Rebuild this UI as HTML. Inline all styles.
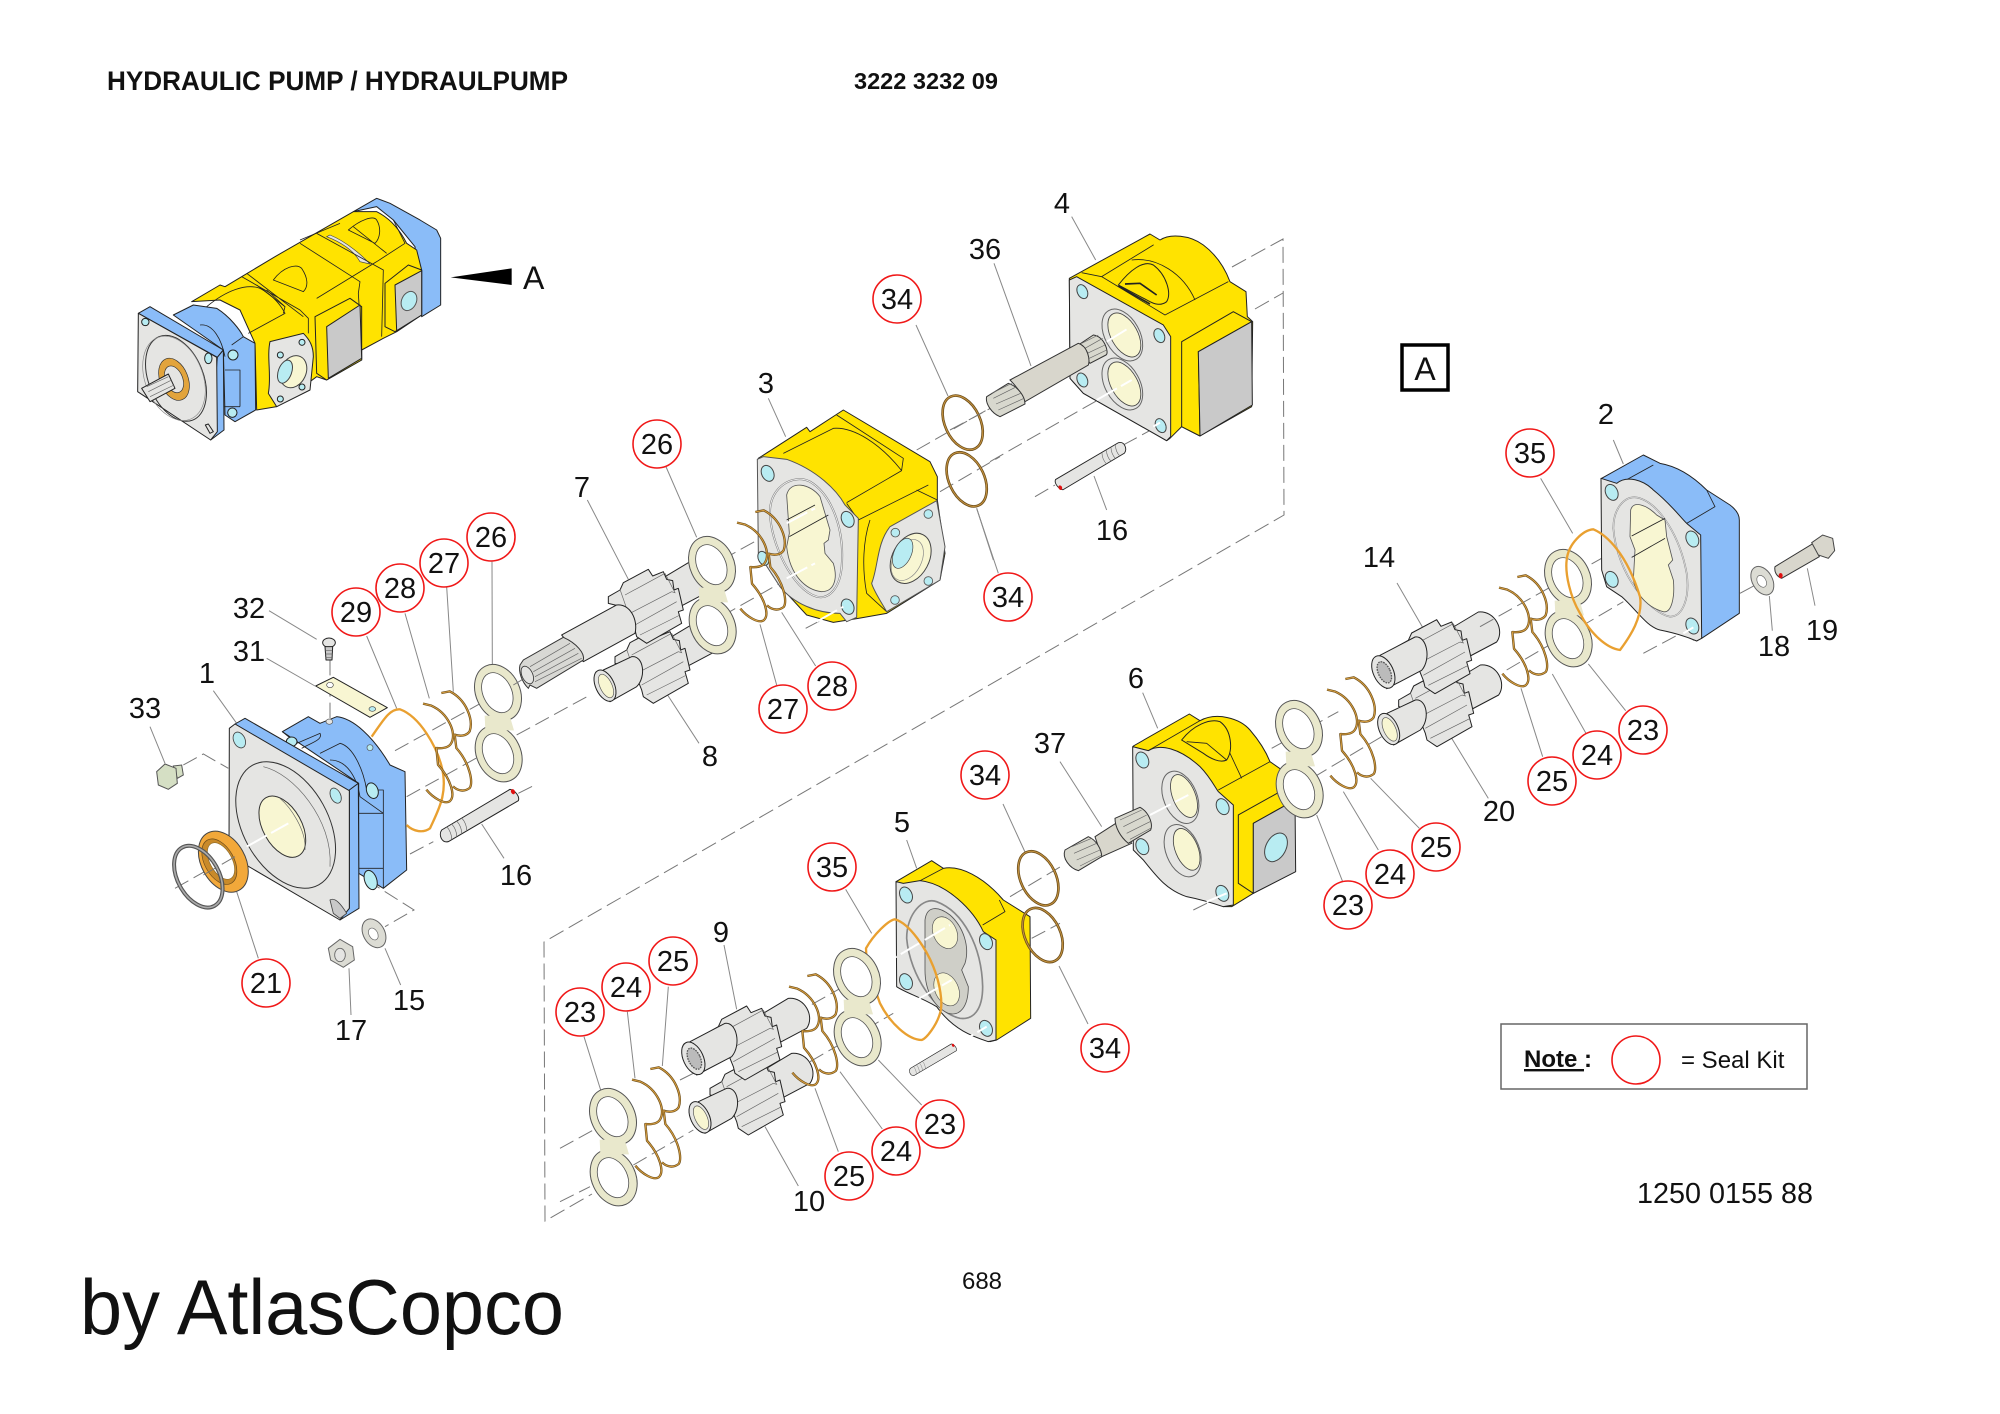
<!DOCTYPE html>
<html><head><meta charset="utf-8"><title>Hydraulic Pump</title>
<style>
html,body{margin:0;padding:0;background:#fff}
svg{display:block}
.k{stroke:#222;stroke-width:3;stroke-linejoin:round}
.n{fill:none;stroke:#222;stroke-width:2.5;stroke-linejoin:round}
.t{fill:none;stroke:#666;stroke-width:2}
.y{fill:#ffe300}.b{fill:#8abcf8}.g{fill:#e5e5e3}.d{fill:#c9c9c9}.c{fill:#f8f6d2}.h{fill:#b8ecf2}.s{fill:#dcdcd4}.w{fill:#fff}
.wa{fill:#e9e8cc;stroke:#555;stroke-width:3}
.l{stroke:#888;stroke-width:3;fill:none}
.dl{stroke:#777;stroke-width:3;stroke-dasharray:46 18;fill:none}
.wl{stroke:#fff;stroke-width:6;fill:none;stroke-dasharray:70 14}
.go{fill:none;stroke:#6e4f1c;stroke-width:7;stroke-linejoin:round}
.gi{fill:none;stroke:#d9a040;stroke-width:3;stroke-linejoin:round}
.oo{fill:none;stroke:#e9a030;stroke-width:7;stroke-linejoin:round}
.ri{fill:none;stroke:#6e4f1c;stroke-width:8}
.rj{fill:none;stroke:#c89540;stroke-width:3}
text{font-family:"Liberation Sans",sans-serif;fill:#111}
.lb text,.lb{font-size:29px;text-anchor:middle}
.rc{fill:#fff;stroke:#f01818;stroke-width:1.6}
</style></head><body>
<svg xmlns="http://www.w3.org/2000/svg" width="2000" height="1414" viewBox="0 0 2000 1414">
<defs>
<g id="w8">
<ellipse class="wa" cx="0" cy="-91" rx="66" ry="88" transform="rotate(-25 0 -91)"/>
<ellipse class="wa" cx="2" cy="92" rx="66" ry="88" transform="rotate(-25 2 92)"/>
<path fill="#e9e8cc" d="M-40-22L35-22L48 22L-38 22Z"/>
<ellipse class="w" stroke="#555" stroke-width="2.5" cx="-2" cy="-91" rx="43" ry="63" transform="rotate(-25 -2 -91)"/>
<ellipse class="w" stroke="#555" stroke-width="2.5" cx="0" cy="92" rx="43" ry="63" transform="rotate(-25 0 92)"/>
</g>
<g id="snap" transform="translate(-985 -502)">
<path class="go" d="M965 340L990 335C1040 360 1062 420 1050 455C1040 470 1020 470 1005 465L1010 505C1050 550 1062 610 1050 625C1030 640 1010 630 1000 620"/>
<path class="go" d="M910 372L935 378C985 400 1012 460 995 490C985 510 955 505 950 505L955 555C995 600 1008 650 990 665C975 675 940 655 920 630"/>
<path class="gi" d="M965 340L990 335C1040 360 1062 420 1050 455C1040 470 1020 470 1005 465L1010 505C1050 550 1062 610 1050 625C1030 640 1010 630 1000 620"/>
<path class="gi" d="M910 372L935 378C985 400 1012 460 995 490C985 510 955 505 950 505L955 555C995 600 1008 650 990 665C975 675 940 655 920 630"/>
</g>
<g id="gear">
<path class="g k" d="M55-90L130-135C180-140 210-80 185-45L100 0Z"/>
<path class="g k" d="M-115-30L-80-50L-70-72L5-112L18-92L50-105L60-82L78-78L82-50L95-55L110 10L95 15L105 50L0 110L-30 90L-35 70L-55 20L-70 15L-75 0L-115-10Z"/>
<path class="t" d="M-65-35L55-100M-50 20L75-45M-35 55L90-15M-20 85L100 25M-80-52L-55 20M55-100L85-42L75-45"/>
</g>
<g id="cylb">
<path class="g k" d="M-150 10L-65-30C-30-35-20 30-50 60L-130 105Z"/>
<ellipse class="g k" cx="-145" cy="57" rx="28" ry="50" transform="rotate(-25 -145 57)"/>
<ellipse class="c" stroke="#555" stroke-width="2" cx="-142" cy="58" rx="18" ry="38" transform="rotate(-25 -142 58)"/>
</g>
<g id="cyls">
<path class="g k" d="M-165-5L-60-60C-25-65-10 5-40 40L-145 95Z"/>
<ellipse class="g k" cx="-155" cy="45" rx="30" ry="52" transform="rotate(-25 -155 45)"/>
<ellipse fill="#bbb" stroke="#555" stroke-width="4" stroke-dasharray="5 3" cx="-152" cy="46" rx="18" ry="34" transform="rotate(-25 -152 46)"/>
</g>
<g id="pin">
<path class="g k" d="M-115 45L90-77C105-75 120-55 115-43L-95 80C-115 85-125 60-115 45Z"/>
<path class="t" d="M-100 35C-90 45-85 60-85 72M-85 27C-75 37-70 52-70 63M-70 18C-60 28-55 43-55 54M-55 9C-45 19-40 34-40 45"/>
<ellipse fill="#e01010" cx="99" cy="-70" rx="6" ry="8" transform="rotate(-25 99 -70)"/>
</g>
</defs>
<rect width="2000" height="1414" fill="#fff"/>

<!-- titles -->
<text x="107" y="90" font-size="27" font-weight="700" textLength="461" lengthAdjust="spacingAndGlyphs">HYDRAULIC PUMP / HYDRAULPUMP</text>
<text x="854" y="89" font-size="23" font-weight="700" textLength="144" lengthAdjust="spacingAndGlyphs">3222 3232 09</text>
<text x="80" y="1334" font-size="78" textLength="484" lengthAdjust="spacingAndGlyphs">by AtlasCopco</text>
<text x="982" y="1289" font-size="24" text-anchor="middle">688</text>
<text x="1637" y="1203" font-size="29" textLength="176" lengthAdjust="spacingAndGlyphs">1250 0155 88</text>

<!-- big dashed frame -->
<g fill="none" stroke="#777" stroke-width="1" stroke-dasharray="16 6">
<path d="M1232 267L1283 239L1284 515L544 942L545 1221L592 1194"/>
<path d="M1255 309L1283 293"/>
</g>
<path fill="none" stroke="#888" stroke-width="1" d="M916 325L948 396M1003 804L1025 852M1059 966L1088 1024M1397 583L1423 628"/>

<!-- Assembled pump -->
<g transform="translate(100 170) scale(.33333)">
<path class="b k" d="M760 125L830 85L870 100L960 150L1010 180L1022 205L1022 405L965 440L945 230L880 150L830 110Z"/>
<path class="y k" d="M275 395L360 345L375 350L425 320L525 260L760 125L830 125C880 150 905 190 920 220L950 240L965 300L965 435L890 485L850 505L785 540L785 570L680 630L650 620L530 710L470 720L465 520L420 420L360 390Z"/>
<path class="n" d="M320 410C380 360 440 340 480 355C520 375 545 410 555 430L445 490M500 360L555 410"/>
<path class="b k" d="M220 435L280 405L350 415C390 440 420 480 430 500L465 520L467 720L405 755L375 735L370 540Z"/>
<path class="n" d="M375 600L420 600L420 710M370 710L420 710M300 465C340 460 365 510 375 560M430 500L395 525"/>
<circle class="h k" cx="399" cy="555" r="15"/><circle class="h k" cx="397" cy="728" r="14"/>
<path class="g" d="M690 195C740 215 790 260 810 282L780 275C760 240 720 215 680 200Z" stroke="#444" stroke-width="2"/>
<path class="n" d="M425 320L600 420L625 445L625 490M440 310L610 440M600 220L780 335L775 370L785 530M600 210L720 160M650 190L850 300L845 500M880 150L915 220L830 275L650 385M470 345L555 410L550 430"/>
<path class="n" d="M520 330C550 290 590 280 605 295C625 325 625 350 610 365L520 330ZM745 180C780 150 820 135 830 150C845 175 840 205 825 220L745 180ZM760 170L860 250"/>
<path class="y k" d="M645 440L750 385L785 410L785 570L680 630L650 610Z"/>
<path class="d k" d="M680 470L780 405L785 565L685 625Z"/>
<path class="y k" d="M855 340L925 285L965 300L965 435L885 485L855 470Z"/>
<path class="d k" d="M885 345L965 302L965 435L890 482Z"/>
<ellipse class="h" stroke="#555" stroke-width="3" cx="927" cy="393" rx="22" ry="30" transform="rotate(25 927 393)"/>
<path class="g k" d="M510 515L610 490C630 510 640 530 640 560L630 660L530 710L505 670C515 620 500 560 510 515Z"/>
<ellipse class="c" stroke="#444" stroke-width="3" cx="580" cy="605" rx="38" ry="50" transform="rotate(25 580 605)"/>
<ellipse class="h" stroke="#444" stroke-width="3" cx="555" cy="605" rx="20" ry="36" transform="rotate(20 555 605)"/>
<circle class="h k" cx="541" cy="555" r="9"/><circle class="h k" cx="606" cy="517" r="9"/><circle class="h k" cx="606" cy="651" r="9"/><circle class="h k" cx="541" cy="687" r="9"/>
<path class="b k" d="M115 430L150 410L370 540L352 562Z"/>
<path class="b k" d="M352 562L370 540L372 780L332 810Z"/>
<path class="g k" d="M115 430L350 562L352 785L332 810L113 665Z"/>
<ellipse fill="none" stroke="#333" stroke-width="3" cx="228" cy="625" rx="82" ry="135" transform="rotate(-22 228 625)"/>
<ellipse fill="none" stroke="#888" stroke-width="2" cx="222" cy="625" rx="86" ry="132" transform="rotate(-22 222 625)"/>
<ellipse fill="#e2a43c" stroke="#333" stroke-width="2" cx="222" cy="628" rx="42" ry="66" transform="rotate(-22 222 628)"/>
<ellipse class="g" stroke="#333" stroke-width="2" cx="222" cy="628" rx="26" ry="42" transform="rotate(-22 222 628)"/>
<path class="g k" d="M125 655L205 612L225 655L150 695Z"/>
<path class="t" d="M140 650L205 620M145 665L215 630M150 680L222 645"/>
<circle class="h k" cx="136" cy="456" r="11"/><ellipse class="h k" cx="325" cy="565" rx="11" ry="16"/>
<path class="g k" d="M316 765L330 790L340 785L325 762Z"/>
<path fill="#000" d="M1052 322L1235 295L1235 345Z"/>
</g>
<text x="523" y="289" font-size="32">A</text>

<!-- Front cover 1 group -->
<g transform="translate(120 580) scale(.33333)">
<path class="dl" d="M190 555L250 522L325 565"/>
<path class="dl" d="M630 240L630 430M825 512L1140 338M860 650L1140 495M870 822L940 785M1195 640L1245 615M740 900L882 990L795 1040"/>
<path class="dl" d="M165 925L280 860"/>
<path class="l" d="M447 92L590 178M440 235L585 318M280 332L350 430M90 440L135 550M740 168L830 385M855 100L928 355M980 20L1000 335M1116 -55L1117 255M1152 835L1085 732M415 1135L350 935M693 1305L687 1165M842 1215L795 1105"/>
<path class="b k" d="M487 455L565 410L600 430L650 410C700 415 760 470 810 555L855 575L860 870L790 925L716 880L716 610Z"/>
<path class="n" d="M487 455L530 490L600 460C610 480 570 490 545 505M600 520L660 490C700 500 730 570 740 630L790 630L790 925M716 700L790 700M716 865L790 865M630 540C680 540 710 590 720 650L790 700"/>
<ellipse class="h k" cx="515" cy="485" rx="16" ry="14"/>
<ellipse class="h k" cx="757" cy="632" rx="17" ry="24" transform="rotate(-20 757 632)"/>
<ellipse class="h k" cx="752" cy="900" rx="18" ry="30" transform="rotate(-20 752 900)"/>
<circle class="h" stroke="#555" stroke-width="2" cx="750" cy="503" r="9"/>
<ellipse class="g" stroke="#555" stroke-width="2" cx="628" cy="425" rx="10" ry="8"/>
<path class="b k" d="M345 432L375 415L715 610L688 640Z"/>
<path class="b k" d="M688 630L715 610L717 985L660 1020L688 985Z"/>
<path class="g k" d="M328 445L345 432L688 632L688 985L660 1020L327 825Z"/>
<ellipse fill="none" stroke="#333" stroke-width="3" cx="497" cy="735" rx="128" ry="205" transform="rotate(-29 497 735)"/>
<path class="t" d="M430 560C520 580 640 720 630 860"/>
<ellipse class="c" stroke="#333" stroke-width="3" cx="487" cy="740" rx="58" ry="100" transform="rotate(-29 487 740)"/>
<path class="t" d="M480 655C510 680 560 750 555 810"/>
<ellipse class="h" stroke="#444" stroke-width="2.5" cx="358" cy="480" rx="17" ry="25" transform="rotate(-25 358 480)"/>
<ellipse class="h" stroke="#444" stroke-width="2.5" cx="647" cy="647" rx="15" ry="24" transform="rotate(-25 647 647)"/>
<path class="d" stroke="#444" stroke-width="2.5" d="M630 960C645 950 665 975 680 1000L660 1015L640 1000Z"/>
<path class="wl" d="M380 800L505 730"/>
<ellipse fill="#f2a83a" stroke="#444" stroke-width="3" cx="310" cy="845" rx="66" ry="98" transform="rotate(-29 310 845)"/>
<ellipse fill="#c98a2a" stroke="#6a4a1a" stroke-width="2" cx="298" cy="845" rx="44" ry="74" transform="rotate(-29 298 845)"/>
<ellipse class="w" stroke="#8a6a2a" stroke-width="2" cx="303" cy="843" rx="33" ry="60" transform="rotate(-29 303 843)"/>
<path class="dl" d="M250 885L345 830"/>
<ellipse fill="none" stroke="#555" stroke-width="12" cx="235" cy="890" rx="62" ry="100" transform="rotate(-29 235 890)"/>
<ellipse fill="none" stroke="#aaa" stroke-width="5" cx="235" cy="890" rx="62" ry="100" transform="rotate(-29 235 890)"/>
<path class="oo" d="M755 470C790 420 810 385 840 388C900 410 950 500 965 560C985 640 955 690 930 745C910 760 880 755 860 735"/>
<!-- bolt 32 -->
<ellipse class="g k" cx="627" cy="188" rx="19" ry="14"/>
<path class="d k" d="M615 200L638 200L636 240L618 240Z"/>
<path class="t" d="M616 212L637 212M616 222L637 222M617 232L636 232"/>
<!-- plate 31 -->
<path class="c k" d="M587 318L640 292L802 383L750 412Z"/>
<ellipse class="w" stroke="#444" stroke-width="2" cx="630" cy="315" rx="10" ry="8"/>
<ellipse class="h" stroke="#444" stroke-width="2" cx="757" cy="387" rx="10" ry="7"/>
<!-- plug 33 -->
<path fill="#d5dfc4" stroke="#555" stroke-width="3" d="M160 558L185 555L190 585L172 595Z"/>
<path fill="#d5dfc4" stroke="#555" stroke-width="3" d="M110 575L135 552L168 565L172 610L145 628L115 615Z"/>
<!-- nut, washer -->
<path class="s" stroke="#666" stroke-width="3" d="M625 1105L660 1078L698 1100L703 1140L670 1162L632 1140Z"/>
<ellipse class="g" stroke="#666" stroke-width="2.5" cx="660" cy="1125" rx="16" ry="20"/>
<ellipse class="s" stroke="#666" stroke-width="3" cx="762" cy="1060" rx="32" ry="46" transform="rotate(-29 762 1060)"/>
<ellipse class="w" stroke="#666" stroke-width="2" cx="760" cy="1062" rx="13" ry="19" transform="rotate(-29 760 1062)"/>
<use href="#pin" transform="translate(1080 705)"/>
</g>

<!-- reusable washers & snap rings -->
<g transform="translate(498 723) scale(.33333)"><use href="#w8"/></g>

<!-- Gears 7 & 8 & pump 3 -->
<g transform="translate(500 380) scale(.33333)">
<path class="dl" d="M50 1065L270 945M40 915L90 885M610 740L945 550M610 570L945 385M917 745L1040 680M1250 210L1495 70M1320 335L1500 230"/>
<path class="l" d="M497 258L590 472M262 360L385 598M805 55L857 170M597 1090L493 930M830 915L780 733M947 858L845 697M1430 385L1495 580"/>
<!-- pump 3 -->
<path class="y k" d="M775 235L920 142L930 155L1030 90L1290 245L1312 290L1312 360L1335 520L1320 600L1160 700L1075 715L1000 727L920 705L860 640L780 500Z"/>
<path class="n" d="M850 220L1000 145C1060 140 1140 190 1205 272L1040 368M1010 105L1210 235L1205 270M1040 370L1075 420M1075 420L1285 315M1110 420C1090 480 1085 560 1100 640L1160 695M1250 330L1312 360"/>
<path class="g" stroke="#555" stroke-width="3" d="M1170 440L1310 362L1335 500L1320 600L1160 695C1140 660 1120 630 1115 610C1135 560 1130 490 1170 440Z"/>
<ellipse class="c" stroke="#444" stroke-width="3" cx="1232" cy="535" rx="55" ry="80" transform="rotate(28 1232 535)"/>
<ellipse fill="none" stroke="#888" stroke-width="2" cx="1222" cy="540" rx="42" ry="66" transform="rotate(28 1222 540)"/>
<ellipse class="h" stroke="#444" stroke-width="2" cx="1208" cy="520" rx="26" ry="48" transform="rotate(24 1208 520)"/>
<circle class="h" stroke="#555" stroke-width="2.5" cx="1186" cy="458" r="13"/><circle class="h" stroke="#555" stroke-width="2.5" cx="1285" cy="402" r="13"/><circle class="h" stroke="#555" stroke-width="2.5" cx="1285" cy="603" r="13"/><circle class="h" stroke="#555" stroke-width="2.5" cx="1185" cy="660" r="13"/>
<path class="g" stroke="#555" stroke-width="3" d="M772 238L790 230L860 238C950 270 1010 330 1035 375L1075 415L1070 712L1040 725L1020 700C950 700 880 670 840 620L775 520Z"/>
<path fill="none" stroke="#777" stroke-width="6" d="M810 395C810 320 880 280 930 305C990 340 1035 440 1025 560C1020 620 990 660 950 650C880 630 810 490 810 395Z"/>
<path fill="none" stroke="#eee" stroke-width="3" d="M810 395C810 320 880 280 930 305C990 340 1035 440 1025 560C1020 620 990 660 950 650C880 630 810 490 810 395Z"/>
<path class="c" stroke="#555" stroke-width="2.5" d="M860 345C870 300 930 310 960 350L975 400L990 450L985 480L972 490L975 520L1000 550C1015 600 1000 635 965 635C920 630 870 590 860 500L868 460Z"/>
<path class="n" d="M860 420L945 375M868 470L985 405"/>
<ellipse class="h" stroke="#444" stroke-width="3" cx="803" cy="280" rx="18" ry="25" transform="rotate(-25 803 280)"/>
<ellipse class="h" stroke="#444" stroke-width="3" cx="1043" cy="418" rx="18" ry="25" transform="rotate(-25 1043 418)"/>
<ellipse class="h" stroke="#444" stroke-width="3" cx="1043" cy="680" rx="18" ry="24" transform="rotate(-25 1043 680)"/>
<ellipse class="h" stroke="#444" stroke-width="3" cx="790" cy="535" rx="15" ry="22" transform="rotate(-25 790 535)"/>
<path class="wl" d="M860 430L945 385M860 595L945 550M950 725L1030 680"/>
<ellipse class="ri" cx="1388" cy="128" rx="53" ry="86" transform="rotate(-25 1388 128)"/>
<ellipse class="rj" cx="1388" cy="128" rx="53" ry="86" transform="rotate(-25 1388 128)"/>
<ellipse class="ri" cx="1400" cy="298" rx="53" ry="86" transform="rotate(-25 1400 298)"/>
<ellipse class="rj" cx="1400" cy="298" rx="53" ry="86" transform="rotate(-25 1400 298)"/>
<!-- lower gear -->
<use href="#gear" transform="translate(460 860)"/>
<use href="#cylb" transform="translate(460 860)"/>
<!-- upper gear with long shaft -->
<use href="#gear" transform="translate(440 680)"/>
<path class="g k" d="M185 765L350 675C390 670 415 720 405 760L250 845Z"/>
<path fill="#d8d8d4" stroke="#333" stroke-width="3" d="M60 855L70 840L190 772C230 790 255 820 250 840L110 925L90 915L85 925C65 905 55 875 60 855Z"/>
<path class="t" d="M90 860L210 790M100 875L225 805M105 890L235 820M105 905L245 835"/>
<ellipse class="g" stroke="#333" stroke-width="2.5" cx="82" cy="885" rx="16" ry="28" transform="rotate(-25 82 885)"/>
</g>
<g transform="translate(712 595) scale(.33333)"><use href="#w8"/></g>
<g transform="translate(762 566) scale(.33333)"><use href="#snap"/></g>
<g transform="translate(448 747) scale(.33333)"><use href="#snap"/></g>

<!-- Part 4, shaft 36, pin 16 -->
<g transform="translate(950 180) scale(.33333)">
<path class="dl" d="M0 750L140 675M120 845L540 605M255 950L315 915M520 795L630 735"/>
<path class="l" d="M365 110L437 240M132 250L243 558M470 990L432 888M80 985L130 1140"/>
<path class="y k" d="M358 295L600 162L630 180C660 160 720 165 760 195C800 225 825 265 840 305L888 335L892 410L908 425L905 680L750 768L695 740L660 775L650 782L400 640L360 595Z"/>
<path class="n" d="M395 278L455 290L610 195L455 290L645 405L835 305M545 240C620 230 700 280 735 360"/>
<path fill="#ffe300" stroke="#222" stroke-width="3" d="M505 315C540 270 580 240 610 255C650 285 665 340 650 365C630 380 610 370 600 365Z"/>
<path fill="none" stroke="#222" stroke-width="5" d="M505 318L600 372M525 312L570 310L620 345"/>
<path class="y k" d="M695 485L850 395L905 425L745 515L750 768L695 740Z"/>
<path class="d k" d="M745 515L905 425L907 675L750 768Z"/>
<path class="g k" d="M358 300L380 290L640 435L662 470L662 770L650 782L400 640L360 595Z"/>
<ellipse class="g" stroke="#666" stroke-width="3" cx="517" cy="465" rx="52" ry="84" transform="rotate(-29 517 465)"/>
<ellipse class="c" stroke="#444" stroke-width="2.5" cx="523" cy="465" rx="40" ry="72" transform="rotate(-29 523 465)"/>
<ellipse class="g" stroke="#666" stroke-width="3" cx="517" cy="612" rx="52" ry="84" transform="rotate(-29 517 612)"/>
<ellipse class="c" stroke="#444" stroke-width="2.5" cx="523" cy="612" rx="40" ry="72" transform="rotate(-29 523 612)"/>
<ellipse class="h" stroke="#444" stroke-width="3" cx="397" cy="335" rx="15" ry="22" transform="rotate(-25 397 335)"/>
<ellipse class="h" stroke="#444" stroke-width="3" cx="628" cy="467" rx="15" ry="22" transform="rotate(-25 628 467)"/>
<ellipse class="h" stroke="#444" stroke-width="3" cx="397" cy="600" rx="15" ry="22" transform="rotate(-25 397 600)"/>
<ellipse class="h" stroke="#444" stroke-width="3" cx="632" cy="737" rx="15" ry="22" transform="rotate(-25 632 737)"/>
<path class="wl" d="M470 485L535 445M440 660L545 600M610 740L630 728"/>
<path fill="#d8d8ce" stroke="#333" stroke-width="3" d="M385 495L430 465C465 470 478 520 468 525L420 550Z"/>
<path class="t" d="M395 490L445 465M405 505L458 475M412 520L465 495M418 535L470 510"/>
<path fill="#d8d6cc" stroke="#333" stroke-width="3" d="M180 600L385 490C415 500 420 540 415 555L225 665C215 640 195 615 180 600Z"/>
<path fill="#d8d8ce" stroke="#333" stroke-width="3" d="M110 650L175 610C205 620 225 650 225 672L150 710C125 700 105 670 110 650Z"/>
<path class="t" d="M125 640L185 610M130 655L200 620M138 672L212 640M145 690L222 655"/>
<use href="#pin" transform="translate(420 860) rotate(180) scale(.9)"/>
</g>

<!-- Part 5, gears 9,10 -->
<g transform="translate(560 840) scale(.33333)">
<path class="dl" d="M0 925L200 815M0 1085L90 1040M220 975L400 870M360 720L400 700M700 525L850 440M750 665L1000 520M1180 620L1280 560M1350 170L1510 75M1415 295L1500 250"/>
<path class="l" d="M857 148L935 280M492 315L530 508M325 440L307 678M202 515L225 715M72 590L122 750M1085 795L955 660M967 867L840 695M835 935L765 745M715 1038L615 860M1040 0L1070 85"/>
<path class="y k" d="M1008 125L1115 62L1150 85C1200 75 1270 110 1330 180L1410 230L1412 535L1310 600L1290 605Z"/>
<path class="n" d="M1268 255L1335 215L1318 180M1075 125L1150 85"/>
<path class="g k" d="M1008 125L1030 130L1080 122C1160 130 1240 210 1270 275L1308 300L1308 600L1285 605C1240 590 1180 570 1130 500C1080 470 1040 460 1010 440Z"/>
<path fill="none" stroke="#888" stroke-width="5" d="M1040 295C1040 220 1090 170 1130 185C1210 215 1265 320 1268 440C1268 510 1240 540 1200 535C1130 520 1050 410 1040 295Z"/>
<path fill="#cfcfc8" stroke="#555" stroke-width="2.5" d="M1095 240C1100 200 1130 195 1170 225C1210 260 1230 320 1215 370L1205 390L1225 440C1225 500 1200 530 1165 520C1120 500 1095 450 1095 390Z"/>
<ellipse class="c" stroke="#555" stroke-width="2" cx="1155" cy="278" rx="35" ry="50" transform="rotate(-25 1155 278)"/>
<ellipse class="c" stroke="#555" stroke-width="2" cx="1160" cy="448" rx="35" ry="52" transform="rotate(-25 1160 448)"/>
<ellipse class="h" stroke="#444" stroke-width="3" cx="1038" cy="165" rx="18" ry="25" transform="rotate(-25 1038 165)"/>
<ellipse class="h" stroke="#444" stroke-width="3" cx="1278" cy="305" rx="18" ry="25" transform="rotate(-25 1278 305)"/>
<ellipse class="h" stroke="#444" stroke-width="3" cx="1038" cy="425" rx="18" ry="25" transform="rotate(-25 1038 425)"/>
<ellipse class="h" stroke="#444" stroke-width="3" cx="1278" cy="565" rx="18" ry="25" transform="rotate(-25 1278 565)"/>
<path class="wl" d="M950 385L1170 255M1000 520L1175 420M1180 620L1280 560"/>
<path class="oo" d="M918 325C940 285 985 240 1005 238C1050 250 1100 330 1120 380C1140 430 1150 490 1140 520C1130 555 1100 595 1085 600C1045 600 990 550 960 490C935 420 918 370 918 325Z"/>
<ellipse class="ri" cx="1435" cy="115" rx="53" ry="86" transform="rotate(-25 1435 115)"/>
<ellipse class="rj" cx="1435" cy="115" rx="53" ry="86" transform="rotate(-25 1435 115)"/>
<ellipse class="ri" cx="1448" cy="285" rx="53" ry="86" transform="rotate(-25 1448 285)"/>
<ellipse class="rj" cx="1448" cy="285" rx="53" ry="86" transform="rotate(-25 1448 285)"/>
<use href="#pin" transform="translate(1120 658) scale(.6)"/>
<use href="#gear" transform="translate(565 775)"/>
<use href="#cylb" transform="translate(565 775)"/>
<use href="#gear" transform="translate(555 610)"/>
<use href="#cyls" transform="translate(555 610)"/>
</g>
<g transform="translate(613 1147) scale(.33333)"><use href="#w8"/></g>
<g transform="translate(857 1007) scale(.33333)"><use href="#w8"/></g>
<g transform="translate(657 1123) scale(.33333)"><use href="#snap"/></g>
<g transform="translate(814 1030) scale(.33333)"><use href="#snap"/></g>

<!-- Part 6, shaft 37 -->
<g transform="translate(1060 680) scale(.33333)">
<path class="dl" d="M635 205L835 95M705 325L990 155M400 690L500 640"/>
<path class="l" d="M248 38L293 145M0 245L125 440M848 605L770 405M955 510L850 335M1078 445L932 295M1285 355L1172 170"/>
<path class="y k" d="M220 198L388 102L420 122C470 95 540 115 570 150C600 185 620 220 630 245L680 280L680 345L705 360L705 575L580 640L515 680L490 680Z"/>
<path class="n" d="M475 330L630 245M510 220L545 295M265 212L420 122"/>
<path fill="#ffe300" stroke="#222" stroke-width="3" d="M365 180C400 135 450 115 480 125C515 150 520 210 500 240C480 250 450 235 430 220Z"/>
<path class="n" d="M380 185L440 190L500 240"/>
<path class="y k" d="M535 405L660 335L705 360L580 430L580 640L535 610Z"/>
<path class="d k" d="M580 430L705 360L707 575L580 640Z"/>
<ellipse class="h" stroke="#444" stroke-width="3" cx="648" cy="502" rx="30" ry="46" transform="rotate(28 648 502)"/>
<path class="g k" d="M218 200L265 212C300 190 360 205 420 260C450 290 470 330 475 335L520 375L520 675L490 680C460 670 430 660 380 650C320 630 290 590 250 540L220 510Z"/>
<ellipse class="g" stroke="#666" stroke-width="3" cx="361" cy="352" rx="50" ry="82" transform="rotate(-22 361 352)"/>
<ellipse class="c" stroke="#444" stroke-width="2.5" cx="372" cy="348" rx="34" ry="68" transform="rotate(-22 372 348)"/>
<ellipse class="g" stroke="#666" stroke-width="3" cx="368" cy="512" rx="50" ry="82" transform="rotate(-22 368 512)"/>
<ellipse class="c" stroke="#444" stroke-width="2.5" cx="380" cy="508" rx="34" ry="66" transform="rotate(-22 380 508)"/>
<ellipse class="h" stroke="#444" stroke-width="3" cx="247" cy="240" rx="18" ry="25" transform="rotate(-25 247 240)"/>
<ellipse class="h" stroke="#444" stroke-width="3" cx="488" cy="380" rx="18" ry="25" transform="rotate(-25 488 380)"/>
<ellipse class="h" stroke="#444" stroke-width="3" cx="247" cy="500" rx="18" ry="25" transform="rotate(-25 247 500)"/>
<ellipse class="h" stroke="#444" stroke-width="3" cx="487" cy="640" rx="18" ry="25" transform="rotate(-25 487 640)"/>
<path class="wl" d="M270 405L385 345M440 665L500 640"/>
<path fill="#d8d6cc" stroke="#333" stroke-width="3" d="M105 470L175 425L215 490L125 530Z"/>
<path fill="#d8d8ce" stroke="#333" stroke-width="3" d="M165 415L240 382C265 395 280 430 272 450L205 490C180 470 165 440 165 415Z"/>
<path class="t" d="M180 420L245 390M190 440L260 405M200 460L270 425M210 478L272 445"/>
<path fill="#d8d8ce" stroke="#333" stroke-width="3" d="M15 510L85 470C110 480 125 510 125 530L55 572C30 565 5 535 15 510Z"/>
<path class="t" d="M35 500L95 475M42 520L110 490M50 540L120 510M60 558L125 525"/>
</g>

<!-- gears 14, 20 and cover 2 -->
<g transform="translate(1437 710) scale(.33333)"><use href="#gear"/><use href="#cylb"/></g>
<g transform="translate(1435 657) scale(.33333)"><use href="#gear"/><use href="#cyls"/></g>
<g transform="translate(1299 759) scale(.33333)"><use href="#w8"/></g>
<g transform="translate(1352 733) scale(.33333)"><use href="#snap"/></g>

<g transform="translate(1480 440) scale(.33333)">
<path class="dl" d="M0 560L365 355M80 690L430 485M490 640L640 560M780 460L845 425"/>
<path class="l" d="M182 115L278 280M400 0L430 72M437 812L325 672M318 880L217 702M188 950L123 745M877 572L868 468M1005 497L982 385"/>
<path class="b k" d="M365 115L490 45L540 70C600 80 650 120 680 150L750 195C770 210 778 225 778 240L778 520L665 595L640 600Z"/>
<path class="n" d="M620 250L705 200L680 150M420 130L520 75"/>
<path class="g k" d="M363 115L410 130C440 105 490 120 520 150C570 190 600 230 620 250L662 285L665 595L650 603C620 590 590 580 540 570C500 560 470 510 425 470L380 440L365 390Z"/>
<path fill="none" stroke="#888" stroke-width="5" d="M400 265C400 200 440 160 480 175C540 195 600 290 620 400C630 470 610 530 570 530C510 520 410 400 400 265Z"/>
<path fill="none" stroke="#eee" stroke-width="2" d="M400 265C400 200 440 160 480 175C540 195 600 290 620 400C630 470 610 530 570 530C510 520 410 400 400 265Z"/>
<path class="c" stroke="#555" stroke-width="2.5" d="M452 210C460 180 500 195 530 225L555 240L560 290L578 360L565 375L580 420C585 470 575 520 550 515C510 505 470 470 460 420L465 330L450 290Z"/>
<path class="n" d="M455 288L555 235M455 352L555 295"/>
<ellipse class="h" stroke="#444" stroke-width="3" cx="395" cy="157" rx="18" ry="25" transform="rotate(-25 395 157)"/>
<ellipse class="h" stroke="#444" stroke-width="3" cx="637" cy="297" rx="18" ry="25" transform="rotate(-25 637 297)"/>
<ellipse class="h" stroke="#444" stroke-width="3" cx="395" cy="418" rx="18" ry="25" transform="rotate(-25 395 418)"/>
<ellipse class="h" stroke="#444" stroke-width="3" cx="637" cy="558" rx="18" ry="25" transform="rotate(-25 637 558)"/>
<path class="wl" d="M610 580L640 562"/>
</g>
<g transform="translate(1568 608) scale(.33333)"><use href="#w8"/></g>
<g transform="translate(1524 631) scale(.33333)"><use href="#snap"/></g>
<g transform="translate(1480 440) scale(.33333)">
<path class="oo" d="M260 360C265 310 310 270 340 268C380 285 440 340 480 470C490 530 450 590 420 630C380 625 330 580 300 520C270 470 255 400 260 360Z"/>
<ellipse class="s" stroke="#666" stroke-width="3" cx="847" cy="422" rx="30" ry="46" transform="rotate(-29 847 422)"/>
<ellipse class="w" stroke="#666" stroke-width="2" cx="845" cy="424" rx="13" ry="19" transform="rotate(-29 845 424)"/>
<path fill="#d8d6cc" stroke="#333" stroke-width="3" d="M885 380L1000 310L1018 350L905 415C890 410 882 395 885 380Z"/>
<path fill="#d8d6cc" stroke="#444" stroke-width="3" d="M995 308L1028 285L1058 295L1064 332L1045 355L1015 345Z"/>
<ellipse fill="#e01010" cx="902" cy="407" rx="6" ry="8"/>
</g>

<!-- A box -->
<rect x="1402" y="345" width="46" height="45" fill="#fff" stroke="#000" stroke-width="3.5"/>
<text x="1425" y="380" font-size="32" text-anchor="middle">A</text>

<!-- Note -->
<rect x="1501" y="1024" width="306" height="65" fill="#fff" stroke="#666" stroke-width="1.5"/>
<text x="1524" y="1067" font-size="24" font-weight="700"><tspan text-decoration="underline">Note </tspan>:</text>
<circle class="rc" cx="1636" cy="1060" r="24"/>
<text x="1681" y="1068" font-size="24">= Seal Kit</text>

<!-- plain labels -->
<g class="lb">
<text x="249" y="618">32</text><text x="249" y="661">31</text><text x="207" y="683">1</text><text x="145" y="718">33</text>
<text x="516" y="885">16</text><text x="409" y="1010">15</text><text x="351" y="1040">17</text>
<text x="582" y="497">7</text><text x="766" y="393">3</text><text x="710" y="766">8</text>
<text x="1062" y="213">4</text><text x="985" y="259">36</text><text x="1112" y="540">16</text>
<text x="721" y="942">9</text><text x="809" y="1211">10</text><text x="902" y="832">5</text><text x="1050" y="753">37</text><text x="1136" y="688">6</text>
<text x="1499" y="821">20</text><text x="1379" y="567">14</text><text x="1606" y="424">2</text><text x="1774" y="656">18</text><text x="1822" y="640">19</text>
</g>

<!-- circled labels -->
<g class="lb">
<circle class="rc" cx="356" cy="612" r="24"/><text x="356" y="622">29</text>
<circle class="rc" cx="400" cy="588" r="24"/><text x="400" y="598">28</text>
<circle class="rc" cx="444" cy="563" r="24"/><text x="444" y="573">27</text>
<circle class="rc" cx="491" cy="537" r="24"/><text x="491" y="547">26</text>
<circle class="rc" cx="266" cy="983" r="24"/><text x="266" y="993">21</text>
<circle class="rc" cx="657" cy="444" r="24"/><text x="657" y="454">26</text>
<circle class="rc" cx="832" cy="686" r="24"/><text x="832" y="696">28</text>
<circle class="rc" cx="783" cy="709" r="24"/><text x="783" y="719">27</text>
<circle class="rc" cx="897" cy="299" r="24"/><text x="897" y="309">34</text>
<circle class="rc" cx="1008" cy="597" r="24"/><text x="1008" y="607">34</text>
<circle class="rc" cx="832" cy="867" r="24"/><text x="832" y="877">35</text>
<circle class="rc" cx="673" cy="961" r="24"/><text x="673" y="971">25</text>
<circle class="rc" cx="626" cy="987" r="24"/><text x="626" y="997">24</text>
<circle class="rc" cx="580" cy="1012" r="24"/><text x="580" y="1022">23</text>
<circle class="rc" cx="940" cy="1124" r="24"/><text x="940" y="1134">23</text>
<circle class="rc" cx="896" cy="1151" r="24"/><text x="896" y="1161">24</text>
<circle class="rc" cx="849" cy="1176" r="24"/><text x="849" y="1186">25</text>
<circle class="rc" cx="985" cy="775" r="24"/><text x="985" y="785">34</text>
<circle class="rc" cx="1105" cy="1048" r="24"/><text x="1105" y="1058">34</text>
<circle class="rc" cx="1348" cy="905" r="24"/><text x="1348" y="915">23</text>
<circle class="rc" cx="1390" cy="874" r="24"/><text x="1390" y="884">24</text>
<circle class="rc" cx="1436" cy="847" r="24"/><text x="1436" y="857">25</text>
<circle class="rc" cx="1530" cy="453" r="24"/><text x="1530" y="463">35</text>
<circle class="rc" cx="1643" cy="730" r="24"/><text x="1643" y="740">23</text>
<circle class="rc" cx="1597" cy="755" r="24"/><text x="1597" y="765">24</text>
<circle class="rc" cx="1552" cy="781" r="24"/><text x="1552" y="791">25</text>
</g>
</svg>
</body></html>
